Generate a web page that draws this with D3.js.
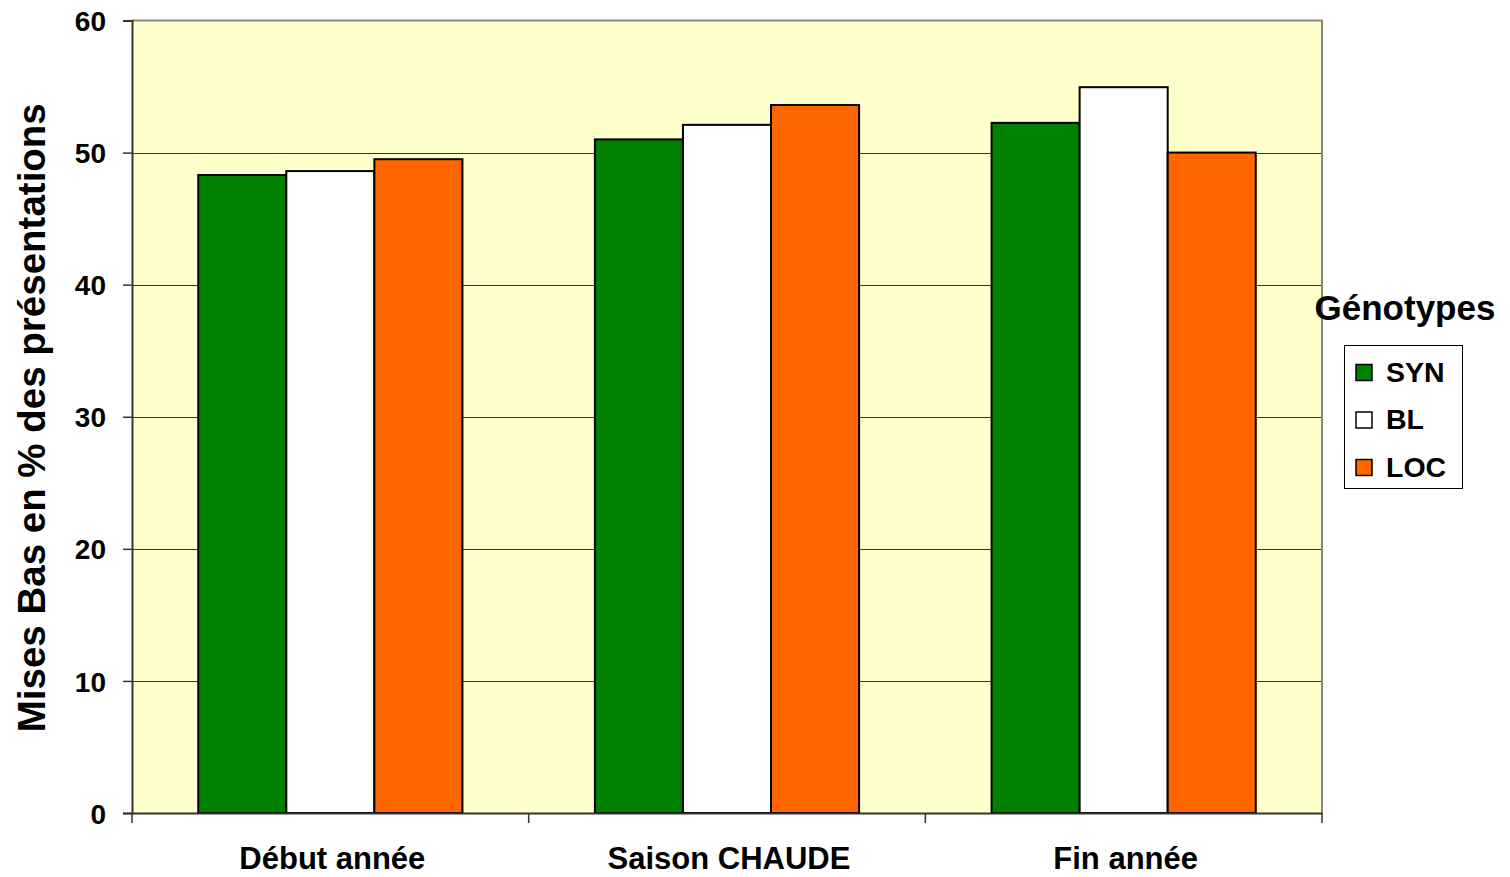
<!DOCTYPE html>
<html><head><meta charset="utf-8">
<script src="https://cdn.jsdelivr.net/npm/d3@7"></script>
<style>body{margin:0;background:#fff;} text{font-family:Arial,"Liberation Sans",sans-serif;font-weight:bold;fill:#000;}</style>
</head><body>
<svg id="c" width="1510" height="877"></svg>
<script>
const categories = ["Début année", "Saison CHAUDE", "Fin année"];
const seriesNames = ["SYN", "BL", "LOC"];
const SYN = [48.3, 51.0, 52.25];
const BL  = [48.6, 52.1, 54.95];
const LOC = [49.5, 53.6, 50.0];
const colors = ["#008000", "#FFFFFF", "#FF6600"];
const yTicks = [0, 10, 20, 30, 40, 50, 60];
const yTitle = "Mises Bas en % des présentations";
const legendTitle = "Génotypes";

const values = [SYN, BL, LOC];
const svg = d3.select("#c");
const L = 132, R = 1322, T = 20.5, B = 813;

const x = d3.scaleBand().domain(categories).range([L, R]).paddingInner(0).paddingOuter(0);
const groupW = x.bandwidth() * 0.666;
const inner = d3.scaleBand().domain(seriesNames)
  .range([(x.bandwidth() - groupW) / 2, (x.bandwidth() + groupW) / 2]).padding(0);
const y = d3.scaleLinear().domain([0, 60]).range([B, T]);

svg.append("rect").attr("x", L).attr("y", T).attr("width", R - L).attr("height", B - T).attr("fill", "#FFFFCC");

// gridlines
svg.append("g").selectAll("line").data(yTicks.filter(d => d > 0 && d < 60)).join("line")
  .attr("x1", L).attr("x2", R).attr("y1", d => Math.round(y(d)) + 0.5).attr("y2", d => Math.round(y(d)) + 0.5)
  .attr("stroke", "#333").attr("stroke-width", 1);

// border top/right grey
svg.append("path").attr("d", `M${L},${T}H${R}V${B}`).attr("fill", "none")
  .attr("stroke", "#888").attr("stroke-width", 2);

// bars
categories.forEach((c, ci) => {
  seriesNames.forEach((s, si) => {
    svg.append("rect")
      .attr("x", x(c) + inner(s)).attr("y", y(values[si][ci]))
      .attr("width", inner.bandwidth()).attr("height", B - y(values[si][ci]))
      .attr("fill", colors[si]).attr("stroke", "#000").attr("stroke-width", 2);
  });
});

// y axis
const yAxis = d3.axisLeft(y).tickValues(yTicks).tickSize(9).tickPadding(17);
const gy = svg.append("g").attr("transform", `translate(${L},0)`).call(yAxis);
gy.select(".domain").attr("stroke", "#333").attr("stroke-width", 2);
gy.selectAll(".tick line").attr("stroke", "#333").attr("stroke-width", 1.5);
gy.selectAll("text").style("font-size", "28px").style("font-weight", "bold").attr("fill", "#000").attr("dy", "0.36em");

// x axis
const xAxis = d3.axisBottom(x).tickValues([]).tickSizeOuter(0);
const gx = svg.append("g").attr("transform", `translate(0,${B})`).call(xAxis);
gx.select(".domain").attr("stroke", "#333").attr("stroke-width", 2);
const xTickPos = categories.map(c => x(c)).concat([R]);
gx.selectAll("line.sep").data(xTickPos).join("line").attr("class", "sep")
  .attr("x1", d => d).attr("x2", d => d).attr("y1", 0).attr("y2", 10)
  .attr("stroke", "#333").attr("stroke-width", 1.5);
gx.selectAll("text.cat").data(categories).join("text").attr("class", "cat")
  .attr("x", d => x(d) + x.bandwidth() / 2 + 2).attr("y", 56)
  .attr("text-anchor", "middle").style("font-size", "31px").text(d => d);

// y title
svg.append("text").attr("transform", `translate(45,${(T + B) / 2 + 1}) rotate(-90)`)
  .attr("text-anchor", "middle").style("font-size", "38.5px").text(yTitle);

// legend
svg.append("text").attr("x", 1405).attr("y", 320).attr("text-anchor", "middle")
  .style("font-size", "35px").text(legendTitle);
svg.append("rect").attr("x", 1344.5).attr("y", 345.5).attr("width", 118).attr("height", 143)
  .attr("fill", "#fff").attr("stroke", "#000").attr("stroke-width", 1);
const lg = svg.append("g").selectAll("g").data(seriesNames).join("g")
  .attr("transform", (d, i) => `translate(1356,${381.5 + i * 47.5})`);
lg.append("rect").attr("x", 0).attr("y", -17).attr("width", 16).attr("height", 16)
  .attr("fill", (d, i) => colors[i]).attr("stroke", "#000").attr("stroke-width", 1.5);
lg.append("text").attr("x", 30).attr("y", 0).style("font-size", "28.5px").text(d => d);
</script>
</body></html>
